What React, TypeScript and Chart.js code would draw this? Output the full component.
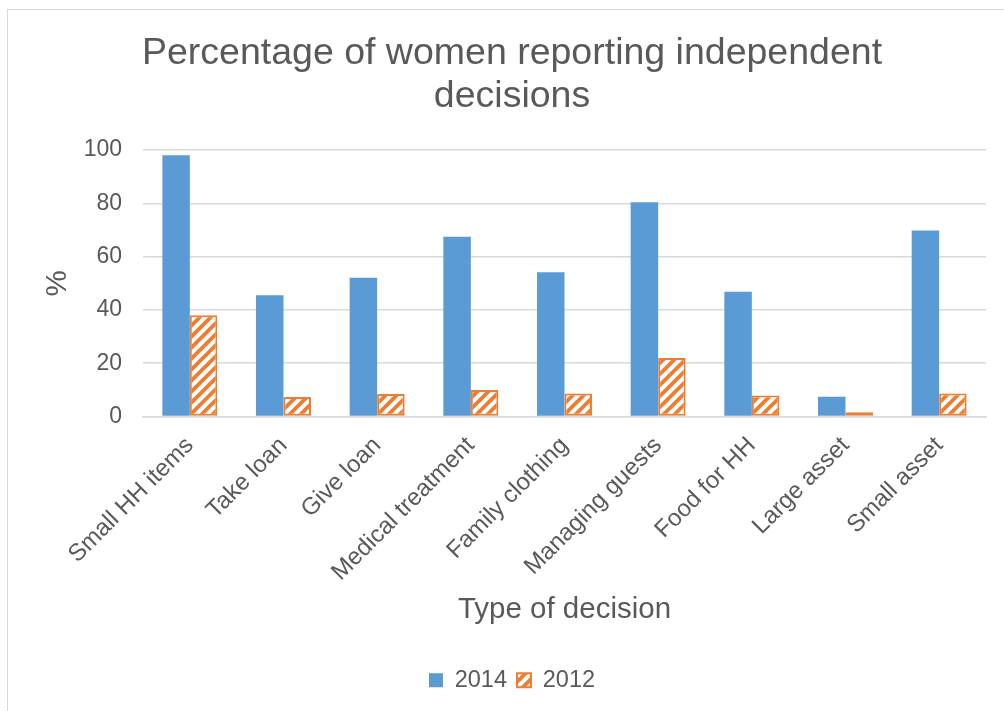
import React, { useEffect, useRef } from "react";
import { Chart, registerables } from "chart.js";

Chart.register(...registerables);

const categories = [
  "Small HH items",
  "Take loan",
  "Give loan",
  "Medical treatment",
  "Family clothing",
  "Managing guests",
  "Food for HH",
  "Large asset",
  "Small asset",
];
const values2014 = [98, 45.5, 52.1, 67.5, 54.1, 80.4, 46.8, 7.4, 69.8];
const values2012 = [38, 7.3, 8.4, 9.9, 8.6, 22, 7.9, 1.6, 8.6];
const seriesLabels = ["2014", "2012"];
const titleLines = ["Percentage of women reporting independent", "decisions"];
const xTitle = "Type of decision";
const yTitle = "%";
const yMin = 0;
const yMax = 100;
const yStep = 20;

const BLUE = "#5B9BD5";
const ORANGE = "#ED7D31";
const TEXT = "#595959";
const GRID = "#D9D9D9";
const FONT = "'Liberation Sans', Arial, sans-serif";

function makeHatch(): CanvasPattern | string {
  const s = 11;
  const c = document.createElement("canvas");
  c.width = s;
  c.height = s;
  const ctx = c.getContext("2d");
  if (!ctx) return "#fff";
  ctx.fillStyle = "#ffffff";
  ctx.fillRect(0, 0, s, s);
  ctx.strokeStyle = ORANGE;
  ctx.lineWidth = 3.8;
  ctx.lineCap = "square";
  ctx.beginPath();
  ctx.moveTo(-2, s + 2);
  ctx.lineTo(s + 2, -2);
  ctx.moveTo(-s / 2 - 2, s / 2 + 2);
  ctx.lineTo(s / 2 + 2, -s / 2 - 2);
  ctx.moveTo(s / 2 - 2, s * 1.5 + 2);
  ctx.lineTo(s * 1.5 + 2, s / 2 - 2);
  ctx.stroke();
  const p = ctx.createPattern(c, "repeat");
  return p || "#fff";
}

export default function App() {
  const ref = useRef<HTMLCanvasElement | null>(null);

  useEffect(() => {
    if (!ref.current) return;
    const hatch = makeHatch();
    const chart = new Chart(ref.current, {
      type: "bar",
      data: {
        labels: categories,
        datasets: [
          {
            label: seriesLabels[0],
            data: values2014,
            backgroundColor: BLUE,
            borderWidth: 0,
          },
          {
            label: seriesLabels[1],
            data: values2012,
            backgroundColor: hatch as any,
            borderColor: ORANGE,
            borderWidth: 2,
            borderSkipped: false,
          },
        ],
      },
      options: {
        animation: false,
        responsive: false,
        devicePixelRatio: 1,
        layout: { padding: { left: 38, right: 18, top: 0, bottom: 9 } },
        datasets: {
          bar: { categoryPercentage: 0.587, barPercentage: 1 },
        },
        plugins: {
          title: {
            display: true,
            text: titleLines,
            color: TEXT,
            font: { family: FONT, size: 37.5, weight: "normal", lineHeight: 1.147 },
            padding: { top: 32.5, bottom: 31.5 },
          },
          legend: {
            position: "bottom",
            labels: {
              color: TEXT,
              font: { family: FONT, size: 23.5 },
              boxWidth: 14,
              boxHeight: 14,
              padding: 10,
            },
          },
          tooltip: { enabled: false },
        },
        scales: {
          x: {
            grid: { display: false, drawTicks: false },
            border: { display: true, color: GRID, width: 1.5 },
            ticks: {
              color: TEXT,
              font: { family: FONT, size: 24 },
              minRotation: 45,
              maxRotation: 45,
              padding: 15,
              autoSkip: false,
            },
            title: {
              display: true,
              text: xTitle,
              color: TEXT,
              font: { family: FONT, size: 29.5 },
              padding: { top: 0, bottom: 31 },
            },
            afterFit: (scale: any) => {
              scale.height = 242;
            },
          },
          y: {
            min: yMin,
            max: yMax,
            grid: { color: GRID, lineWidth: 1.5, drawTicks: false },
            border: { display: false },
            ticks: {
              stepSize: yStep,
              color: TEXT,
              font: { family: FONT, size: 23 },
              padding: 21,
            },
            title: {
              display: true,
              text: yTitle,
              color: TEXT,
              font: { family: FONT, size: 29.5, lineHeight: 1.2 },
              padding: { top: 2.3, bottom: 0 },
            },
            afterFit: (scale: any) => {
              scale.width = 105;
            },
          },
        },
      },
    });
    return () => chart.destroy();
  }, []);

  return (
    <div
      style={{
        position: "absolute",
        left: 0,
        top: 0,
        width: 1004,
        height: 711,
        overflow: "hidden",
        background: "#fff",
      }}
    >
      <div
        style={{
          position: "absolute",
          left: 7,
          top: 9,
          width: 1100,
          height: 800,
          border: "1.5px solid #D9D9D9",
        }}
      />
      <canvas
        ref={ref}
        width={1004}
        height={711}
        style={{ position: "absolute", left: 0, top: 0, width: 1004, height: 711 }}
      />
    </div>
  );
}
